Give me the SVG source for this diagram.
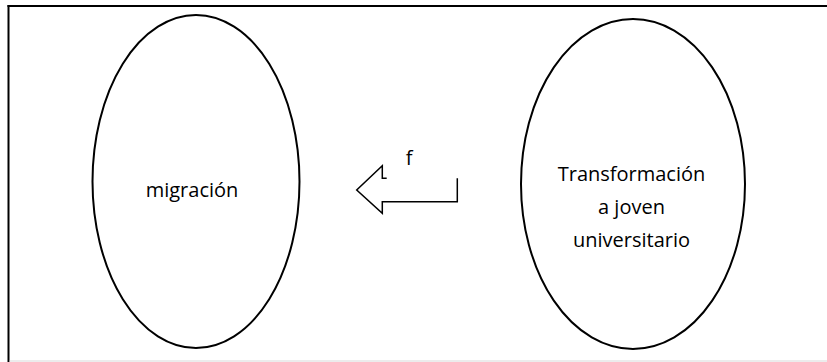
<svg xmlns="http://www.w3.org/2000/svg" width="827" height="362" viewBox="0 0 827 362">
<style>
.node { fill: none; stroke: #000; stroke-width: 2; }
.lbl { font-family: "Open Sans", "Liberation Sans", sans-serif; font-size: 20px; fill: #000; text-anchor: middle; }
.conn { fill: none; stroke: #000; stroke-width: 1.5; stroke-linejoin: miter; }
</style>
<rect width="827" height="362" fill="#fff"/>
<g id="frame">
<line x1="7.5" y1="6" x2="827" y2="6" stroke="#000" stroke-width="2"/>
<line x1="8.5" y1="5" x2="8.5" y2="362" stroke="#000" stroke-width="2"/>
<line x1="9.5" y1="361" x2="827" y2="361" stroke="#d9d9d9" stroke-width="1"/>
</g>
<g id="node-migracion">
<ellipse class="node" cx="196" cy="181.5" rx="103.5" ry="166.5"/>
<text class="lbl" x="192" y="197">migración</text>
</g>
<g id="node-transformacion">
<ellipse class="node" cx="633" cy="184" rx="112" ry="165"/>
<text class="lbl" x="631.5" y="181">Transformación</text>
<text class="lbl" x="631.5" y="214">a joven</text>
<text class="lbl" x="631.5" y="247">universitario</text>
</g>
<g id="connectors">
<polyline class="conn" points="386.7,178.3 382.3,178.3 382.3,165.7 356.7,190 382.3,213.3 382.3,201.7 457.3,201.7 457.3,178.3"/>
<text class="lbl" x="409" y="165">f</text>
</g>
</svg>
